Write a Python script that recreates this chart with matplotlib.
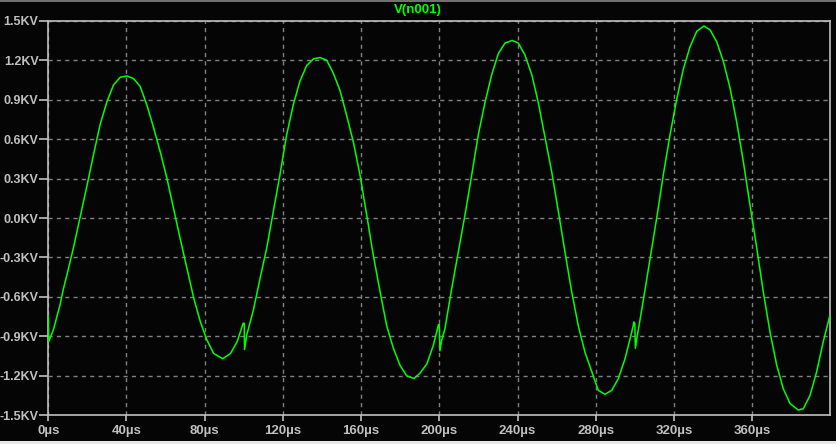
import matplotlib
matplotlib.use('Agg')
import matplotlib.pyplot as plt
from matplotlib.patches import Rectangle

t_us = [0.0, 0.2, 2.6, 6.0, 7.7, 9.4, 12.8, 16.2, 19.7, 23.1, 26.5, 29.9, 33.3,
        36.8, 40.2, 43.6, 47.0, 50.4, 53.8, 57.3, 60.7, 64.1, 67.5, 70.9, 74.4,
        77.8, 81.2, 84.6, 89.2, 93.2, 96.6, 99.7, 100.2, 100.4, 101.5, 104.9,
        108.3, 111.7, 115.1, 118.5, 121.9, 125.3, 128.7, 132.2, 135.6, 139.0,
        142.4, 145.8, 149.2, 152.6, 156.0, 159.4, 162.9, 166.2, 169.7, 173.1,
        176.5, 179.9, 183.3, 187.1, 190.1, 193.6, 196.9, 199.6, 200.0, 200.3,
        201.2, 202.9, 206.3, 209.7, 213.1, 216.6, 219.9, 223.4, 226.8, 230.2,
        233.6, 237.3, 240.4, 243.8, 247.3, 250.6, 254.1, 257.5, 260.9, 264.3,
        267.7, 271.1, 274.5, 278.0, 281.3, 284.8, 288.2, 291.6, 295.0, 298.4,
        299.6, 300.0, 300.3, 301.0, 302.7, 304.3, 307.8, 311.2, 314.6, 318.0,
        321.4, 324.8, 328.2, 331.7, 335.4, 338.5, 341.9, 345.3, 348.7, 352.1,
        355.5, 358.9, 362.4, 365.7, 369.2, 372.6, 376.0, 379.4, 383.6, 386.2,
        389.6, 393.0, 396.4, 399.8]
v_kv = [-0.74, -0.94, -0.85, -0.66, -0.54, -0.44, -0.23, 0.00, 0.24, 0.48, 0.71, 0.88, 1.01,
        1.07, 1.08, 1.06, 1.00, 0.86, 0.69, 0.50, 0.30, 0.07, -0.16, -0.38, -0.61,
        -0.79, -0.93, -1.03, -1.07, -1.03, -0.94, -0.80, -0.80, -1.00, -0.89, -0.70,
        -0.46, -0.23, 0.05, 0.33, 0.63, 0.86, 1.04, 1.16, 1.21, 1.22,
        1.20, 1.10, 0.97, 0.78, 0.58, 0.33, 0.02, -0.28, -0.56, -0.82,
        -0.99, -1.12, -1.20, -1.22, -1.18, -1.11, -0.97, -0.81, -0.81, -1.01,
        -0.93, -0.84, -0.54, -0.26, 0.02, 0.33, 0.63, 0.88, 1.09, 1.25,
        1.33, 1.35, 1.33, 1.24, 1.09, 0.88, 0.61, 0.35, 0.05, -0.26,
        -0.56, -0.82, -1.02, -1.17, -1.31, -1.34, -1.31, -1.22, -1.07, -0.87,
        -0.79, -0.80, -0.99, -0.92, -0.77, -0.63, -0.31, 0.00, 0.33, 0.63,
        0.90, 1.13, 1.30, 1.42, 1.46, 1.43, 1.34, 1.19, 0.99, 0.73,
        0.43, 0.10, -0.23, -0.56, -0.87, -1.12, -1.30, -1.41, -1.46, -1.45,
        -1.35, -1.17, -0.94, -0.74]

xticks = [0, 40, 80, 120, 160, 200, 240, 280, 320, 360]
xlabels = ['0µs', '40µs', '80µs', '120µs', '160µs', '200µs', '240µs', '280µs', '320µs', '360µs']
yticks = [1.5, 1.2, 0.9, 0.6, 0.3, 0.0, -0.3, -0.6, -0.9, -1.2, -1.5]
ylabels = ['1.5KV', '1.2KV', '0.9KV', '0.6KV', '0.3KV', '0.0KV', '-0.3KV', '-0.6KV', '-0.9KV', '-1.2KV', '-1.5KV']

bg = '#050505'
fg = '#c0c0c0'
plt.rcParams['font.family'] = ['Liberation Sans', 'DejaVu Sans']

fig = plt.figure(figsize=(8.37, 4.44), dpi=100, facecolor=bg)
ax = fig.add_axes([48.3/837, 28.7/444, 782.0/837, 394.6/444], facecolor=bg)

ax.plot(t_us, v_kv, color='#00ff00', lw=1.1, zorder=3)

ax.set_xlim(0, 400)
ax.set_ylim(-1.5, 1.5)
ax.set_xticks(xticks)
ax.set_xticklabels(xlabels)
ax.set_yticks(yticks)
ax.set_yticklabels(ylabels)

ax.grid(True, color='#808080', linestyle=(0, (3, 3)), linewidth=1.0, zorder=1)

for s in ax.spines.values():
    s.set_color(fg)
    s.set_linewidth(1.2)
ax.tick_params(axis='x', colors=fg, length=4, width=1.2, pad=3, labelsize=9.5)
ax.tick_params(axis='y', colors=fg, length=6.5, width=1.2, pad=0.5, labelsize=9)
for lab in ax.get_xticklabels() + ax.get_yticklabels():
    lab.set_fontweight('bold')

fig.text(418/837, 1 - 10/444, 'V(n001)', color='#00ff00', fontsize=9.5,
         fontweight='bold', ha='center', va='center')

# window edges
fig.add_artist(Rectangle((0, 1 - 2/444), 1, 2/444, transform=fig.transFigure,
                         facecolor='#707070', edgecolor='none'))
fig.add_artist(Rectangle((0, 0), 1, 3/444, transform=fig.transFigure,
                         facecolor='#e8e8e8', edgecolor='none'))

plt.savefig('out.png', dpi=100, facecolor=bg)
